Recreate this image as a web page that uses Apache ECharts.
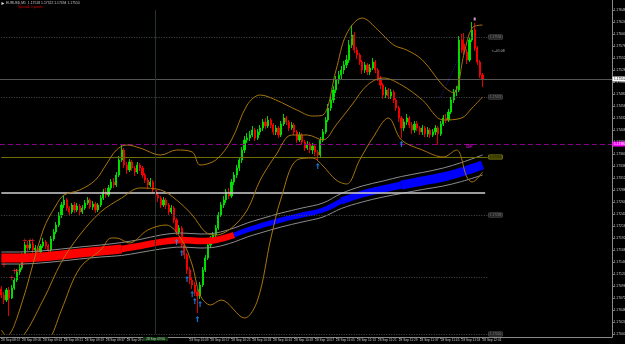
<!DOCTYPE html>
<html lang="en">
<head>
<meta charset="UTF-8">
<title>EURUSD,M1</title>
<script src="https://cdn.jsdelivr.net/npm/echarts@6/dist/echarts.min.js"></script>
<style>
  html, body { margin: 0; padding: 0; background: #000; }
  #chart { width: 625px; height: 344px; }
</style>
</head>
<body>
<div id="chart"></div>
<script>
// time axis, one label every 8 bars (M1)
const tickLabels = ['28 Sep 08:57', '28 Sep 09:05', '28 Sep 09:13', '28 Sep 09:21', '28 Sep 09:29', '28 Sep 09:37',
  '28 Sep 09:45', '28 Sep 09:53', '28 Sep 10:01', '28 Sep 10:09', '28 Sep 10:17', '28 Sep 10:25', '28 Sep 10:33',
  '28 Sep 10:41', '28 Sep 10:49', '28 Sep 10:57', '28 Sep 11:05', '28 Sep 11:13', '28 Sep 11:21', '28 Sep 11:29',
  '28 Sep 11:37', '28 Sep 11:45', '28 Sep 11:53', '28 Sep 12:01'];
const sepIndex = 59;
const sepLabel = '28 Sep 09:56';

// candles
const opens = [1.17090, 1.17078, 1.17068, 1.17088, 1.17072, 1.17092, 1.17108, 1.17124, 1.17132, 1.17158, 1.17178, 1.17172, 1.17180, 1.17168, 1.17172, 1.17164, 1.17176, 1.17184, 1.17176, 1.17168, 1.17190,
  1.17204, 1.17218, 1.17238, 1.17258, 1.17268, 1.17252, 1.17244, 1.17258, 1.17248, 1.17256, 1.17244, 1.17252, 1.17262, 1.17268, 1.17254, 1.17260, 1.17248, 1.17258, 1.17272, 1.17284,
  1.17278, 1.17292, 1.17304, 1.17298, 1.17318, 1.17348, 1.17368, 1.17338, 1.17328, 1.17344, 1.17332, 1.17324, 1.17338, 1.17332, 1.17318, 1.17308, 1.17298, 1.17304, 1.17288, 1.17278,
  1.17272, 1.17258, 1.17268, 1.17258, 1.17244, 1.17252, 1.17228, 1.17204, 1.17212, 1.17178, 1.17158, 1.17128, 1.17108, 1.17098, 1.17084, 1.17076, 1.17098, 1.17128, 1.17152, 1.17178,
  1.17188, 1.17198, 1.17212, 1.17238, 1.17258, 1.17268, 1.17284, 1.17276, 1.17304, 1.17318, 1.17332, 1.17348, 1.17368, 1.17388, 1.17392, 1.17398, 1.17408, 1.17392, 1.17404, 1.17412,
  1.17424, 1.17416, 1.17428, 1.17418, 1.17404, 1.17412, 1.17398, 1.17420, 1.17432, 1.17424, 1.17412, 1.17418, 1.17404, 1.17388, 1.17398, 1.17384, 1.17372, 1.17380, 1.17368, 1.17376,
  1.17364, 1.17358, 1.17388, 1.17404, 1.17428, 1.17452, 1.17468, 1.17488, 1.17508, 1.17518, 1.17528, 1.17538, 1.17548, 1.17578, 1.17598, 1.17568, 1.17558, 1.17544, 1.17528, 1.17538,
  1.17524, 1.17532, 1.17544, 1.17528, 1.17512, 1.17498, 1.17478, 1.17488, 1.17476, 1.17484, 1.17468, 1.17452, 1.17432, 1.17412, 1.17424, 1.17432, 1.17418, 1.17408, 1.17420, 1.17412,
  1.17404, 1.17412, 1.17400, 1.17408, 1.17398, 1.17404, 1.17412, 1.17400, 1.17420, 1.17432, 1.17428, 1.17444, 1.17468, 1.17484, 1.17488, 1.17588, 1.17580, 1.17564, 1.17548, 1.17588, 1.17608, 1.17572, 1.17544, 1.17518];
const highs = [1.17096, 1.17084, 1.17092, 1.17094, 1.17098, 1.17112, 1.17130, 1.17140, 1.17162, 1.17184, 1.17186, 1.17188, 1.17184, 1.17178, 1.17176, 1.17180, 1.17192, 1.17188, 1.17180, 1.17196, 1.17210,
  1.17224, 1.17244, 1.17264, 1.17276, 1.17272, 1.17256, 1.17262, 1.17264, 1.17262, 1.17260, 1.17258, 1.17268, 1.17274, 1.17272, 1.17266, 1.17264, 1.17262, 1.17278, 1.17290, 1.17292,
  1.17298, 1.17310, 1.17312, 1.17324, 1.17356, 1.17380, 1.17372, 1.17344, 1.17350, 1.17348, 1.17336, 1.17344, 1.17342, 1.17336, 1.17322, 1.17312, 1.17312, 1.17308, 1.17292, 1.17284,
  1.17276, 1.17274, 1.17272, 1.17262, 1.17258, 1.17256, 1.17232, 1.17218, 1.17216, 1.17182, 1.17162, 1.17134, 1.17114, 1.17104, 1.17090, 1.17104, 1.17134, 1.17158, 1.17184, 1.17196,
  1.17204, 1.17218, 1.17244, 1.17264, 1.17276, 1.17290, 1.17292, 1.17310, 1.17324, 1.17338, 1.17354, 1.17374, 1.17396, 1.17402, 1.17406, 1.17416, 1.17412, 1.17410, 1.17418, 1.17430,
  1.17432, 1.17436, 1.17432, 1.17422, 1.17418, 1.17416, 1.17426, 1.17440, 1.17436, 1.17428, 1.17424, 1.17422, 1.17408, 1.17404, 1.17402, 1.17388, 1.17386, 1.17384, 1.17382, 1.17380,
  1.17368, 1.17394, 1.17410, 1.17434, 1.17460, 1.17476, 1.17496, 1.17516, 1.17526, 1.17536, 1.17546, 1.17558, 1.17588, 1.17618, 1.17604, 1.17574, 1.17562, 1.17548, 1.17544, 1.17542,
  1.17540, 1.17552, 1.17548, 1.17532, 1.17516, 1.17502, 1.17494, 1.17492, 1.17490, 1.17488, 1.17472, 1.17456, 1.17436, 1.17430, 1.17440, 1.17436, 1.17424, 1.17426, 1.17426, 1.17416,
  1.17418, 1.17416, 1.17414, 1.17412, 1.17410, 1.17418, 1.17416, 1.17426, 1.17438, 1.17440, 1.17450, 1.17474, 1.17490, 1.17496, 1.17596, 1.17600, 1.17602, 1.17570, 1.17594, 1.17624, 1.17622, 1.17576, 1.17548, 1.17522];
const lows = [1.17072, 1.17060, 1.17064, 1.17036, 1.17070, 1.17088, 1.17104, 1.17118, 1.17128, 1.17152, 1.17166, 1.17168, 1.17162, 1.17160, 1.17158, 1.17160, 1.17172, 1.17170, 1.17156, 1.17150, 1.17186,
  1.17200, 1.17214, 1.17232, 1.17252, 1.17246, 1.17236, 1.17240, 1.17242, 1.17244, 1.17238, 1.17240, 1.17248, 1.17258, 1.17250, 1.17248, 1.17242, 1.17244, 1.17254, 1.17268, 1.17272,
  1.17274, 1.17288, 1.17292, 1.17294, 1.17314, 1.17344, 1.17332, 1.17320, 1.17324, 1.17326, 1.17316, 1.17320, 1.17326, 1.17312, 1.17302, 1.17290, 1.17294, 1.17282, 1.17270, 1.17264,
  1.17252, 1.17254, 1.17250, 1.17238, 1.17240, 1.17222, 1.17198, 1.17200, 1.17172, 1.17150, 1.17120, 1.17100, 1.17090, 1.17076, 1.17042, 1.17070, 1.17094, 1.17124, 1.17148, 1.17172,
  1.17182, 1.17192, 1.17208, 1.17234, 1.17252, 1.17262, 1.17270, 1.17272, 1.17298, 1.17312, 1.17326, 1.17342, 1.17362, 1.17382, 1.17386, 1.17394, 1.17386, 1.17388, 1.17398, 1.17406,
  1.17410, 1.17412, 1.17412, 1.17398, 1.17398, 1.17392, 1.17394, 1.17416, 1.17418, 1.17406, 1.17408, 1.17398, 1.17382, 1.17384, 1.17378, 1.17366, 1.17368, 1.17362, 1.17360, 1.17356,
  1.17348, 1.17354, 1.17384, 1.17400, 1.17424, 1.17446, 1.17462, 1.17482, 1.17500, 1.17510, 1.17520, 1.17532, 1.17542, 1.17572, 1.17562, 1.17550, 1.17538, 1.17520, 1.17522, 1.17518,
  1.17518, 1.17528, 1.17522, 1.17506, 1.17490, 1.17470, 1.17472, 1.17470, 1.17470, 1.17462, 1.17446, 1.17424, 1.17392, 1.17406, 1.17418, 1.17412, 1.17400, 1.17402, 1.17406, 1.17398,
  1.17398, 1.17394, 1.17394, 1.17392, 1.17394, 1.17398, 1.17378, 1.17396, 1.17416, 1.17422, 1.17424, 1.17440, 1.17462, 1.17476, 1.17484, 1.17562, 1.17558, 1.17540, 1.17544, 1.17584, 1.17566, 1.17538, 1.17512, 1.17494];
const closes = [1.17078, 1.17068, 1.17088, 1.17072, 1.17092, 1.17108, 1.17124, 1.17132, 1.17158, 1.17178, 1.17172, 1.17180, 1.17168, 1.17172, 1.17164, 1.17176, 1.17184, 1.17176, 1.17168, 1.17190, 1.17204,
  1.17218, 1.17238, 1.17258, 1.17268, 1.17252, 1.17244, 1.17258, 1.17248, 1.17256, 1.17244, 1.17252, 1.17262, 1.17268, 1.17254, 1.17260, 1.17248, 1.17258, 1.17272, 1.17284, 1.17278,
  1.17292, 1.17304, 1.17298, 1.17318, 1.17348, 1.17368, 1.17338, 1.17328, 1.17344, 1.17332, 1.17324, 1.17338, 1.17332, 1.17318, 1.17308, 1.17298, 1.17304, 1.17288, 1.17278, 1.17272,
  1.17258, 1.17268, 1.17258, 1.17244, 1.17252, 1.17228, 1.17204, 1.17212, 1.17178, 1.17158, 1.17128, 1.17108, 1.17098, 1.17084, 1.17076, 1.17098, 1.17128, 1.17152, 1.17178, 1.17188,
  1.17198, 1.17212, 1.17238, 1.17258, 1.17268, 1.17284, 1.17276, 1.17304, 1.17318, 1.17332, 1.17348, 1.17368, 1.17388, 1.17392, 1.17398, 1.17408, 1.17392, 1.17404, 1.17412, 1.17424,
  1.17416, 1.17428, 1.17418, 1.17404, 1.17412, 1.17398, 1.17420, 1.17432, 1.17424, 1.17412, 1.17418, 1.17404, 1.17388, 1.17398, 1.17384, 1.17372, 1.17380, 1.17368, 1.17376, 1.17364,
  1.17358, 1.17388, 1.17404, 1.17428, 1.17452, 1.17468, 1.17488, 1.17508, 1.17518, 1.17528, 1.17538, 1.17548, 1.17578, 1.17598, 1.17568, 1.17558, 1.17544, 1.17528, 1.17538, 1.17524,
  1.17532, 1.17544, 1.17528, 1.17512, 1.17498, 1.17478, 1.17488, 1.17476, 1.17484, 1.17468, 1.17452, 1.17432, 1.17412, 1.17424, 1.17432, 1.17418, 1.17408, 1.17420, 1.17412, 1.17404,
  1.17412, 1.17400, 1.17408, 1.17398, 1.17404, 1.17412, 1.17400, 1.17420, 1.17432, 1.17428, 1.17444, 1.17468, 1.17484, 1.17488, 1.17588, 1.17568, 1.17564, 1.17548, 1.17588, 1.17608, 1.17572, 1.17544, 1.17518, 1.17510];

// bollinger bands, [bar, price]
const bbUpper = [[0, 1.17008], [2, 1.16996], [7, 1.17048], [16, 1.17208], [21, 1.17258], [24, 1.17278], [30, 1.17288], [36, 1.17308], [40, 1.17338], [44, 1.17368], [48, 1.17378], [53, 1.17372], [61, 1.17358], [67, 1.17368], [73, 1.17364], [76, 1.17338], [82, 1.17348], [88, 1.17388], [94, 1.17458], [99, 1.17478], [105, 1.17468], [113, 1.17448], [119, 1.17436], [123, 1.17438], [128, 1.17528], [132, 1.17600], [138, 1.17632], [144, 1.17608], [150, 1.17578], [155, 1.17568], [161, 1.17548], [169, 1.17496], [173, 1.17482], [177, 1.17562], [180, 1.17612], [184, 1.17618]];
const bbMiddle = [[0, 1.16978], [7, 1.16988], [16, 1.17068], [23, 1.17144], [30, 1.17198], [38, 1.17244], [46, 1.17272], [53, 1.17292], [61, 1.17288], [67, 1.17268], [73, 1.17238], [78, 1.17204], [82, 1.17198], [88, 1.17212], [94, 1.17248], [99, 1.17308], [105, 1.17358], [111, 1.17398], [117, 1.17398], [123, 1.17388], [128, 1.17418], [134, 1.17458], [140, 1.17498], [146, 1.17512], [153, 1.17498], [161, 1.17468], [169, 1.17428], [176, 1.17432], [180, 1.17452], [184, 1.17474]];
const bbLower = [[0, 1.16908], [11, 1.16928], [19, 1.16994], [23, 1.17048], [30, 1.17132], [38, 1.17168], [42, 1.17192], [44, 1.17192], [49, 1.17182], [56, 1.17208], [63, 1.17218], [69, 1.17188], [73, 1.17138], [76, 1.17078], [80, 1.17058], [84, 1.17068], [93, 1.17032], [98, 1.17068], [103, 1.17190], [107, 1.17272], [113, 1.17348], [119, 1.17352], [123, 1.17336], [128, 1.17308], [132, 1.17300], [137, 1.17348], [142, 1.17392], [148, 1.17432], [153, 1.17388], [161, 1.17368], [169, 1.17354], [174, 1.17368], [178, 1.17314], [180, 1.17304], [184, 1.17324]];

// moving average ribbon (red part, blue part) and its envelope
const maRed = [[0, 1.17152], [7, 1.17152], [15, 1.17154], [23, 1.17158], [30, 1.17162], [38, 1.17166], [46, 1.17170], [53, 1.17176], [61, 1.17184], [69, 1.17188], [76, 1.17186], [82, 1.17188], [89, 1.17198]];
const maBlue = [[89, 1.17198], [94, 1.17208], [99, 1.17216], [107, 1.17228], [115, 1.17238], [123, 1.17248], [130, 1.17266], [138, 1.17280], [146, 1.17290], [153, 1.17298], [161, 1.17306], [169, 1.17314], [176, 1.17324], [184, 1.17338]];
const envUpper = [[0, 1.17164], [7, 1.17164], [15, 1.17166], [23, 1.17170], [30, 1.17174], [38, 1.17178], [46, 1.17183], [53, 1.17189], [61, 1.17198], [69, 1.17202], [76, 1.17200], [82, 1.17202], [89, 1.17212], [94, 1.17222], [99, 1.17230], [107, 1.17242], [115, 1.17252], [123, 1.17262], [130, 1.17281], [138, 1.17296], [146, 1.17306], [153, 1.17315], [161, 1.17323], [169, 1.17332], [176, 1.17343], [184, 1.17358]];
const envLower = [[0, 1.17140], [7, 1.17140], [15, 1.17142], [23, 1.17146], [30, 1.17150], [38, 1.17154], [46, 1.17157], [53, 1.17163], [61, 1.17170], [69, 1.17174], [76, 1.17172], [82, 1.17174], [89, 1.17184], [94, 1.17194], [99, 1.17202], [107, 1.17214], [115, 1.17224], [123, 1.17234], [130, 1.17251], [138, 1.17264], [146, 1.17274], [153, 1.17281], [161, 1.17289], [169, 1.17296], [176, 1.17305], [184, 1.17318]];

// fractal arrows
const arrowsUp = [[67, 1.17190], [69, 1.17168], [71, 1.17116], [73, 1.17086], [74, 1.17072], [75, 1.17036], [76, 1.17066], [121, 1.17342], [153, 1.17386]];
const arrowsDown = [[1, 1.17134], [4, 1.17108], [5, 1.17122], [6, 1.17122], [8, 1.17134], [9, 1.17182], [11, 1.17182], [12, 1.17182]];
const topMark = [[181, 1.17630]];

// horizontal levels
const pivotLevels = [1.17594, 1.17474, 1.17238, 1.17114, 1.17000];
const pivotBoxed = [true, true, true, false, true];
const oliveLevel = 1.17354;
const whiteLevel = 1.17282;
const dpLevel = 1.17380;
const trendLine = [[168, 1.17474], [175, 1.17554]];
const notes = [[179, 1.17375, 'DP'], [190, 1.17565, '<--01:08']];

const slots = 234;
const levelEnd = 186;
const yMin = 1.17, yMax = 1.17648, yStep = 0.00024;
const font = 'Liberation Sans';

const categories = [];
for (let i = 0; i < slots; i++) {
  categories.push(i % 8 === 0 && i / 8 < tickLabels.length ? tickLabels[i / 8] : '');
}
const last = closes.length - 1;
const headline = 'EURUSD,M1  ' + [opens[last], highs[last], lows[last], closes[last]].map(v => v.toFixed(5)).join(' ');

function boxLabel(bg, border, color) {
  return {
    show: true, position: 'end', distance: 1, fontSize: 3.2, fontFamily: font,
    color: color, backgroundColor: bg, borderColor: border, borderWidth: 0.5, padding: [0.5, 1]
  };
}

const levelLines = [];
pivotLevels.forEach((p, k) => {
  levelLines.push([
    { coord: [0, p], lineStyle: { color: '#4c4c4c', type: [1, 1.5], width: 1 },
      label: pivotBoxed[k] ? Object.assign(boxLabel('#262626', '#5a5a5a', '#7a7a7a'), { formatter: p.toFixed(5) }) : { show: false } },
    { coord: [levelEnd, p] }
  ]);
});
levelLines.push([
  { coord: [0, oliveLevel], lineStyle: { color: '#6e6e00', type: 'solid', width: 1 },
    label: Object.assign(boxLabel('#4a4a00', '#8a8a10', '#202000'), { formatter: oliveLevel.toFixed(5) }) },
  { coord: [levelEnd, oliveLevel] }
]);
levelLines.push([
  { coord: [0, whiteLevel], lineStyle: { color: '#d0d0d0', type: 'solid', width: 1.5 }, label: { show: false } },
  { coord: [last + 1, whiteLevel] }
]);
levelLines.push({
  yAxis: dpLevel, lineStyle: { color: '#8a008a', type: [5, 3], width: 1 },
  label: Object.assign(boxLabel('#ff00ff', '#ff00ff', '#ffffff'), { formatter: dpLevel.toFixed(5) })
});
levelLines.push({
  yAxis: closes[last], lineStyle: { color: '#555555', type: 'solid', width: 1 },
  label: Object.assign(boxLabel('#ffffff', '#ffffff', '#000000'), { formatter: closes[last].toFixed(5) })
});
levelLines.push({
  xAxis: sepIndex, lineStyle: { color: '#263526', type: 'solid', width: 1 },
  label: { show: true, position: 'start', distance: 3, formatter: sepLabel, fontSize: 3.2, fontFamily: font,
    color: '#c8c8c8', backgroundColor: '#0d3a0d', padding: [0.5, 3] }
});

function line(data, color, width, z, extra) {
  return Object.assign({
    type: 'line', data: data, symbol: 'none', smooth: 0.35, silent: true, z: z,
    lineStyle: { color: color, width: width }
  }, extra || {});
}

const option = {
  backgroundColor: '#000000',
  animation: false,
  grid: { left: 0, right: 13, top: 10, bottom: 10, containLabel: false, outerBoundsMode: 'none' },
  xAxis: {
    type: 'category', data: categories, boundaryGap: true, offset: 3,
    axisLine: { show: false },
    axisTick: { show: true, length: 2, alignWithLabel: true, interval: (i, v) => v !== '' && Math.abs(i - sepIndex) > 5,
      lineStyle: { color: '#808080' } },
    axisLabel: { interval: 0, align: 'left', fontSize: 3.2, fontFamily: font, color: '#c8c8c8', margin: 1.5,
      formatter: (v, i) => (Math.abs(i - sepIndex) < 6 ? '' : v) },
    splitLine: { show: false }
  },
  yAxis: {
    type: 'value', position: 'right', min: yMin, max: yMax, interval: yStep, scale: true,
    axisLine: { show: false },
    splitLine: { show: false },
    axisTick: { show: true, length: 2, lineStyle: { color: '#808080' } },
    axisLabel: { fontSize: 3.4, fontFamily: font, color: '#c8c8c8', margin: 1.5, formatter: v => v.toFixed(5) }
  },
  graphic: [
    { type: 'line', silent: true, shape: { x1: 612.5, y1: 0, x2: 612.5, y2: 337.5 }, style: { stroke: '#8a8a8a', lineWidth: 1 } },
    { type: 'line', silent: true, shape: { x1: 0, y1: 337.5, x2: 612.5, y2: 337.5 }, style: { stroke: '#8a8a8a', lineWidth: 1 } },
    { type: 'polygon', silent: true, shape: { points: [[1.5, 2], [4.5, 3.5], [1.5, 5]] }, style: { fill: '#e0e0e0' } },
    { type: 'text', silent: true, x: 6, y: 1.5, style: { text: headline, fill: '#c8c8c8', fontSize: 3.4, fontFamily: font } },
    { type: 'text', silent: true, x: 18, y: 5.2, style: { text: 'Spread: 0 points', fill: '#e00000', fontSize: 3.4, fontFamily: font } }
  ],
  series: [
    { type: 'line', data: [], silent: true, clip: false, z: 1,
      markLine: { symbol: ['none', 'none'], silent: true, animation: false, precision: 5, data: levelLines } },
    line(trendLine, '#1c1ca0', 1, 1, { smooth: false, lineStyle: { color: '#1c1ca0', width: 1, type: [1, 1.5] } }),
    {
      type: 'candlestick', z: 2, silent: true, barWidth: 1.6,
      data: opens.map((o, i) => [o, closes[i], lows[i], highs[i]]),
      itemStyle: { color: '#00e600', color0: '#ff0000', borderColor: '#00e600', borderColor0: '#ff0000', borderWidth: 0.9 }
    },
    line(envUpper, '#8c8c8c', 1, 3),
    line(envLower, '#8c8c8c', 1, 3),
    line(maRed.slice(0, 7), '#ff0000', 9, 4),
    line(maRed.slice(6), '#ff0000', 6.5, 4),
    line(maBlue.slice(0, 7), '#0000ff', 5, 4),
    line(maBlue.slice(6, 10), '#0000ff', 7, 4),
    line(maBlue.slice(9), '#0000ff', 9, 4),
    line(bbUpper, '#a8740e', 1, 5),
    line(bbMiddle, '#a8740e', 1, 5),
    line(bbLower, '#a8740e', 1, 5),
    { type: 'scatter', z: 6, silent: true, data: arrowsUp,
      symbol: 'path://M5,0 L10,6 L6.5,6 L6.5,16 L3.5,16 L3.5,6 L0,6 Z', symbolSize: [4, 6], symbolOffset: [0, 3],
      itemStyle: { color: '#1e90ff' } },
    { type: 'scatter', z: 6, silent: true, data: arrowsDown,
      symbol: 'path://M4,0 L6,0 L6,4 L10,4 L10,6 L6,6 L6,12 L4,12 L4,6 L0,6 L0,4 L4,4 Z', symbolSize: [4, 5], symbolOffset: [0, -2],
      itemStyle: { color: '#ff2a2a' } },
    { type: 'scatter', z: 6, silent: true, data: topMark, symbol: 'rect', symbolSize: [2, 3],
      itemStyle: { color: '#ffc8ff' } },
    { type: 'scatter', z: 7, silent: true, symbolSize: 0,
      data: notes.map((n, k) => ({
        value: [n[0], n[1]],
        label: k === 0
          ? { show: true, position: 'inside', formatter: n[2], color: '#ff00ff', fontSize: 4.5, fontWeight: 'bold', fontFamily: font }
          : { show: true, position: 'inside', formatter: n[2], color: '#d8d8d8', fontSize: 3.4, fontFamily: font }
      })) }
  ]
};

const chart = echarts.init(document.getElementById('chart'));
chart.setOption(option);
</script>
</body>
</html>
